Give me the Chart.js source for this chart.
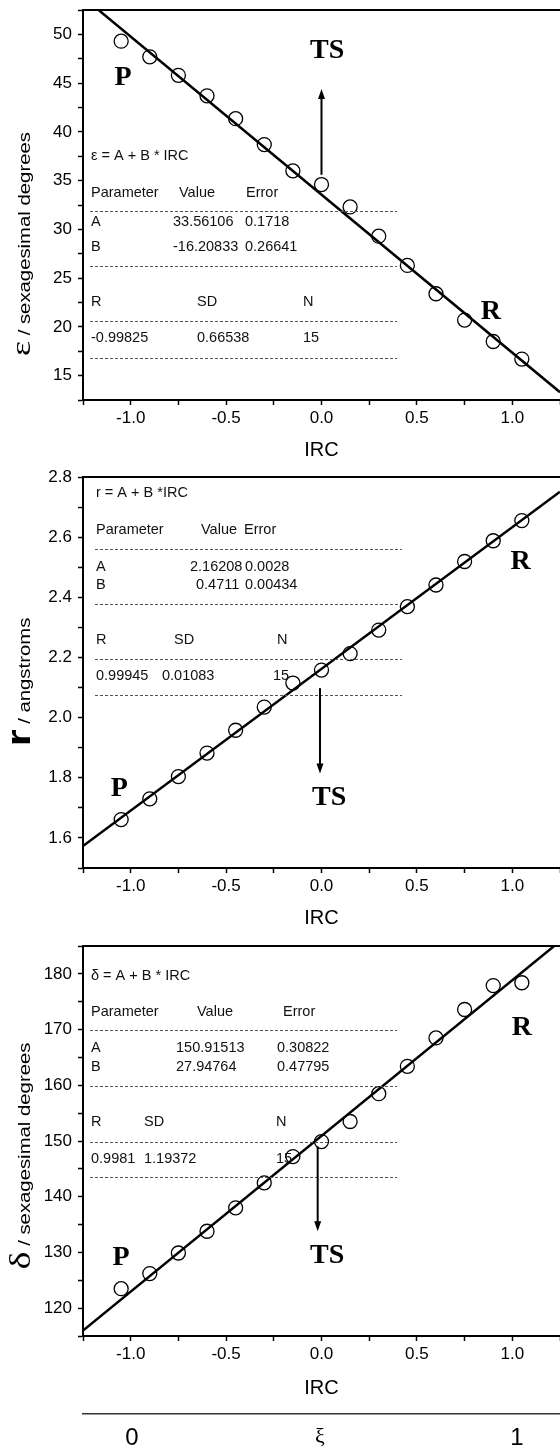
<!DOCTYPE html>
<html>
<head>
<meta charset="utf-8">
<script src="https://cdn.jsdelivr.net/npm/chart.js@4.4.0/dist/chart.umd.min.js"></script>
<style>
  body { margin: 0; background: #fff; }
  #wrap { position: relative; width: 560px; height: 1452px; overflow: hidden; }
  canvas { position: absolute; left: 0; }
</style>
</head>
<body>
<div id="wrap">
  <canvas id="c1" width="560" height="467" style="top:0px"></canvas>
  <canvas id="c2" width="560" height="469" style="top:467px"></canvas>
  <canvas id="c3" width="560" height="516" style="top:936px"></canvas>
</div>
<script>
// IRC positions of the 15 points
const irc = [-1.05, -0.9, -0.75, -0.6, -0.45, -0.3, -0.15, 0, 0.15, 0.3, 0.45, 0.6, 0.75, 0.9, 1.05];

// values
const epsValues = [49.3, 47.7, 45.8, 43.7, 41.35, 38.7, 36.0, 34.6, 32.3, 29.3, 26.3, 23.4, 20.7, 18.5, 16.7];
const rValues = [1.661, 1.730, 1.804, 1.882, 1.958, 2.035, 2.115, 2.158, 2.213, 2.291, 2.369, 2.441, 2.519, 2.588, 2.655];
const deltaValues = [123.5, 126.2, 129.9, 133.8, 138.0, 142.5, 147.2, 149.9, 153.5, 158.5, 163.4, 168.5, 173.6, 177.9, 178.4];

// linear fit parameters [A, B]
const epsFit = [33.56106, -16.20833];
const rFit = [2.16208, 0.4711];
const deltaFit = [150.91513, 27.94764];

// ξ axis under the last panel
const xiTicks = [0, 0.488, 1];
const xiLabels = ['0', 'ξ', '1'];

const SANS = 'Arial, "Liberation Sans", sans-serif';
const SERIF = '"Times New Roman", "Liberation Serif", serif';

// fit report text (page coordinates)
const epsTable = [
  ['ε = A + B * IRC', 91, 156],
  ['Parameter', 91, 193], ['Value', 179, 193], ['Error', 246, 193],
  ['A', 91, 222], ['33.56106', 173, 222], ['0.1718', 245, 222],
  ['B', 91, 247], ['-16.20833', 173, 247], ['0.26641', 245, 247],
  ['R', 91, 302], ['SD', 197, 302], ['N', 303, 302],
  ['-0.99825', 91, 338], ['0.66538', 197, 338], ['15', 303, 338]
];
const epsDashes = [[90, 397, 211], [90, 397, 266], [90, 397, 321], [90, 397, 358]];

const rTable = [
  ['r = A + B *IRC', 96, 493],
  ['Parameter', 96, 530], ['Value', 201, 530], ['Error', 244, 530],
  ['A', 96, 567], ['2.16208', 190, 567], ['0.0028', 245, 567],
  ['B', 96, 585], ['0.4711', 196, 585], ['0.00434', 245, 585],
  ['R', 96, 640], ['SD', 174, 640], ['N', 277, 640],
  ['0.99945', 96, 676], ['0.01083', 162, 676], ['15', 273, 676]
];
const rDashes = [[95, 402, 549], [95, 402, 604], [95, 402, 659], [95, 402, 695]];

const deltaTable = [
  ['δ = A + B * IRC', 91, 976],
  ['Parameter', 91, 1012], ['Value', 197, 1012], ['Error', 283, 1012],
  ['A', 91, 1048], ['150.91513', 176, 1048], ['0.30822', 277, 1048],
  ['B', 91, 1067], ['27.94764', 176, 1067], ['0.47795', 277, 1067],
  ['R', 91, 1122], ['SD', 144, 1122], ['N', 276, 1122],
  ['0.9981', 91, 1159], ['1.19372', 144, 1159], ['15', 276, 1159]
];
const deltaDashes = [[90, 397, 1030], [90, 397, 1086], [90, 397, 1142], [90, 397, 1177]];

// draws axis title, fit report, P/TS/R labels and the TS arrow
const notesPlugin = {
  id: 'notes',
  afterDatasetsDraw(chart, args, o) {
    const ctx = chart.ctx;
    const xs = chart.scales.x, ys = chart.scales.y;
    const top = o.pageTop;
    ctx.save();

    // y title, big symbol then the unit text, reading upward
    const t = o.yTitle;
    ctx.translate(30, t.center - top);
    ctx.rotate(-Math.PI / 2);
    ctx.scale(t.stretch, 1);
    ctx.font = t.bigFont;
    const wb = ctx.measureText(t.big).width;
    ctx.font = t.restFont;
    const wr = ctx.measureText(t.rest).width;
    const start = -(wb + wr) / 2;
    ctx.fillStyle = '#000';
    ctx.textBaseline = 'alphabetic';
    ctx.textAlign = 'left';
    ctx.font = t.bigFont;
    ctx.fillText(t.big, start, 0);
    ctx.font = t.restFont;
    ctx.fillText(t.rest, start + wb, 0);
    ctx.setTransform(1, 0, 0, 1, 0, 0);

    // fit report
    ctx.fillStyle = '#111';
    ctx.font = '14.5px ' + SANS;
    ctx.textBaseline = 'middle';
    o.table.forEach(([s, x, y]) => ctx.fillText(s, x, y - top));
    ctx.strokeStyle = '#555';
    ctx.lineWidth = 1;
    ctx.setLineDash([3, 2]);
    o.dashes.forEach(([x0, x1, y]) => {
      ctx.beginPath();
      ctx.moveTo(x0, y - top + 0.5);
      ctx.lineTo(x1, y - top + 0.5);
      ctx.stroke();
    });
    ctx.setLineDash([]);

    // P / TS / R
    ctx.fillStyle = '#000';
    ctx.font = 'bold 28px ' + SERIF;
    ctx.textAlign = 'center';
    o.labels.forEach(([s, x, y]) => ctx.fillText(s, xs.getPixelForValue(x), ys.getPixelForValue(y)));

    // arrow
    const a = o.arrow;
    const x0 = xs.getPixelForValue(a[0]), y0 = ys.getPixelForValue(a[1]);
    const x1 = xs.getPixelForValue(a[2]), y1 = ys.getPixelForValue(a[3]);
    const dir = Math.sign(y1 - y0);
    ctx.strokeStyle = '#000';
    ctx.lineWidth = 2;
    ctx.beginPath();
    ctx.moveTo(x0, y0);
    ctx.lineTo(x1, y1 - dir * 6);
    ctx.stroke();
    ctx.beginPath();
    ctx.moveTo(x1, y1);
    ctx.lineTo(x1 - 3.5, y1 - dir * 10);
    ctx.lineTo(x1 + 3.5, y1 - dir * 10);
    ctx.closePath();
    ctx.fill();
    ctx.restore();
  }
};

function isStep(v, step) {
  const k = v / step;
  return Math.abs(k - Math.round(k)) < 1e-6;
}

// keep the plot area exactly where the figure has it
function noPadding(s) {
  s.paddingLeft = 0;
  s.paddingRight = 0;
  s.paddingTop = 0;
  s.paddingBottom = 0;
}

function makePanel(id, p) {
  const points = irc.map((x, i) => ({ x: x, y: p.values[i] }));
  const fitLine = [-1.25, 1.25].map(x => ({ x: x, y: p.fit[0] + p.fit[1] * x }));

  const scales = {
    x: {
      type: 'linear', position: 'bottom', min: -1.25, max: 1.25,
      afterFit: s => { s.height = p.xHeight; noPadding(s); },
      ticks: {
        stepSize: 0.25, autoSkip: false, maxRotation: 0, padding: 3, color: '#000',
        font: { size: 17, family: SANS },
        callback: v => isStep(v, 0.5) ? v.toFixed(1) : ''
      },
      grid: { drawOnChartArea: false, tickLength: 5, tickWidth: 1.5, tickColor: '#000' },
      border: { color: '#000', width: 2 },
      title: { display: true, text: 'IRC', color: '#000', font: { size: 20, family: SANS }, padding: { top: 0, bottom: p.titlePad } }
    },
    y: {
      type: 'linear', position: 'left', min: p.yMin, max: p.yMax,
      afterFit: s => { s.width = 83; noPadding(s); },
      ticks: {
        stepSize: p.yStep, autoSkip: false, padding: 6, color: '#000',
        font: { size: 17, family: SANS },
        callback: v => isStep(v, p.yLabelStep) ? (p.yDigits ? v.toFixed(p.yDigits) : String(v)) : ''
      },
      grid: { drawOnChartArea: false, tickLength: 5, tickWidth: 1.5, tickColor: '#000' },
      border: { color: '#000', width: 2 }
    },
    xTop: {
      type: 'linear', position: 'top', min: -1.25, max: 1.25,
      afterFit: s => { s.height = 0; noPadding(s); },
      ticks: { display: false },
      grid: { display: false, drawTicks: false },
      border: { color: '#000', width: 2 }
    }
  };

  if (p.xi) {
    scales.xi = {
      type: 'linear', position: 'bottom', min: -0.1272, max: 1.1117,
      afterFit: s => { s.height = 38; noPadding(s); },
      afterBuildTicks: s => { s.ticks = xiTicks.map(v => ({ value: v })); },
      ticks: {
        autoSkip: false, maxRotation: 0, padding: 10, color: '#000',
        font: c => c.index === 1 ? { size: 22, family: SERIF } : { size: 24, family: SANS },
        callback: (v, i) => xiLabels[i]
      },
      grid: { display: false, drawTicks: false },
      border: { color: '#333', width: 1.5 }
    };
  }

  return new Chart(document.getElementById(id), {
    type: 'scatter',
    data: {
      datasets: [
        {
          type: 'line', data: fitLine, borderColor: '#000', borderWidth: 2.5,
          pointRadius: 0, fill: false, tension: 0
        },
        {
          data: points, pointRadius: 7, pointHoverRadius: 7, pointBorderWidth: 1.3,
          borderColor: '#000', backgroundColor: 'rgba(0,0,0,0)'
        }
      ]
    },
    options: {
      responsive: false,
      animation: false,
      devicePixelRatio: 1,
      layout: { autoPadding: false, padding: { top: 10, right: 0, left: 0, bottom: 0 } },
      scales: scales,
      plugins: {
        legend: { display: false },
        tooltip: { enabled: false },
        notes: p.notes
      }
    },
    plugins: [notesPlugin]
  });
}

makePanel('c1', {
  values: epsValues, fit: epsFit,
  yMin: 12.5, yMax: 52.5, yStep: 2.5, yLabelStep: 5, yDigits: 0,
  xHeight: 67, titlePad: 5,
  notes: {
    pageTop: 0,
    yTitle: { big: 'ε', bigFont: '28px ' + SERIF, rest: ' / sexagesimal degrees', restFont: '16px ' + SANS, center: 244, stretch: 1.27 },
    table: epsTable, dashes: epsDashes,
    labels: [['P', -1.04, 45.5], ['TS', 0.03, 48.3], ['R', 0.887, 21.6]],
    arrow: [0, 35.6, 0, 44.4]
  }
});

makePanel('c2', {
  values: rValues, fit: rFit,
  yMin: 1.5, yMax: 2.8, yStep: 0.1, yLabelStep: 0.2, yDigits: 1,
  xHeight: 68, titlePad: 6,
  notes: {
    pageTop: 467,
    yTitle: { big: 'r', bigFont: 'bold 34px ' + SANS, rest: ' / angstroms', restFont: '16px ' + SANS, center: 682, stretch: 1.27 },
    table: rTable, dashes: rDashes,
    labels: [['P', -1.06, 1.764], ['TS', 0.04, 1.735], ['R', 1.044, 2.519]],
    arrow: [-0.008, 2.098, -0.008, 1.814]
  }
});

makePanel('c3', {
  values: deltaValues, fit: deltaFit,
  yMin: 115, yMax: 185, yStep: 5, yLabelStep: 10, yDigits: 0,
  xHeight: 78, titlePad: 14, xi: true,
  notes: {
    pageTop: 936,
    yTitle: { big: 'δ', bigFont: '30px ' + SERIF, rest: ' / sexagesimal degrees', restFont: '16px ' + SANS, center: 1156, stretch: 1.27 },
    table: deltaTable, dashes: deltaDashes,
    labels: [['P', -1.05, 129.1], ['TS', 0.03, 129.4], ['R', 1.05, 170.3]],
    arrow: [-0.02, 149.0, -0.02, 133.8]
  }
});
</script>
</body>
</html>
